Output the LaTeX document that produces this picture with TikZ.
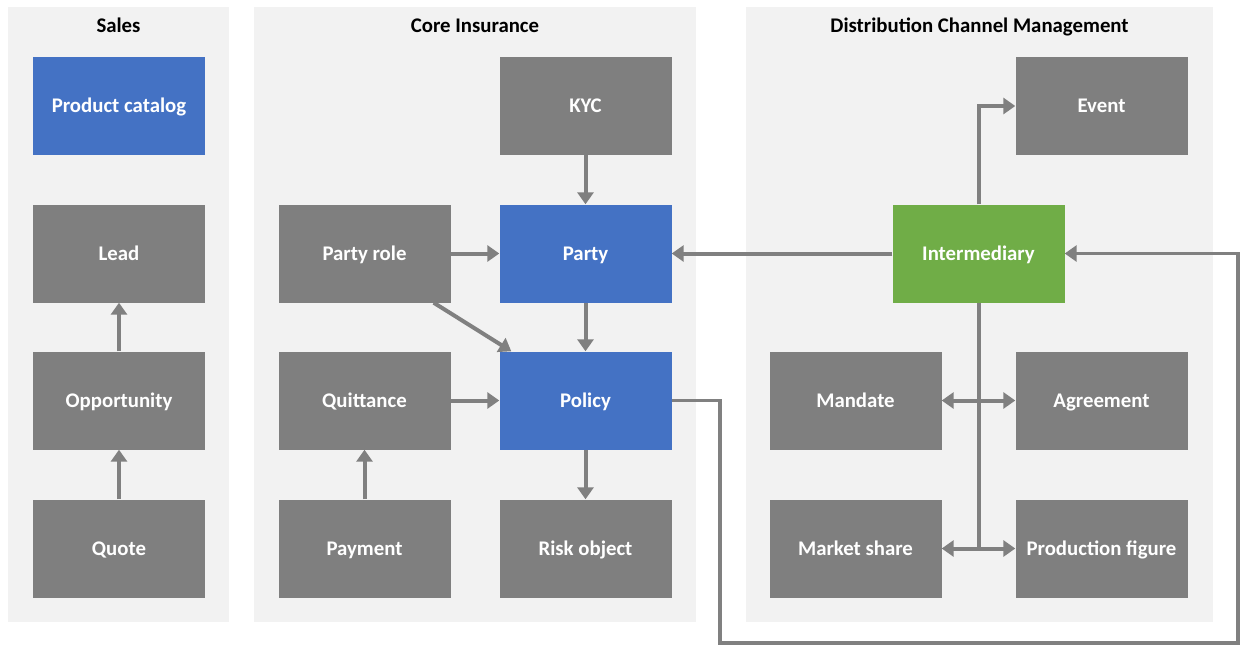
\documentclass[tikz,border=0pt]{standalone}
\usepackage{fontspec}
\setmainfont{Carlito}
\usetikzlibrary{arrows.meta,calc}
\definecolor{boxgray}{HTML}{7F7F7F}
\definecolor{boxblue}{HTML}{4472C4}
\definecolor{boxgreen}{HTML}{70AD47}
\definecolor{panel}{HTML}{F2F2F2}
\definecolor{linegray}{HTML}{808080}
\tikzset{
  box/.style={fill=boxgray, draw=none, minimum width=172pt, minimum height=98pt, inner sep=0pt,
    text=white, font=\fontsize{20.8}{24}\selectfont\bfseries, text height=13.5pt, text depth=0pt},
  bluebox/.style={box, fill=boxblue},
  greenbox/.style={box, fill=boxgreen},
  panelbg/.style={fill=panel, draw=none},
  ptitle/.style={font=\fontsize{20.8}{24}\selectfont\bfseries, text=black, text height=13.5pt, text depth=0pt, inner sep=0pt},
  conn/.style={draw=linegray, line width=4pt},
  arr/.style={conn, -{Triangle[width=16pt,length=12pt]}},
  darr/.style={conn, {Triangle[width=16pt,length=12pt]}-{Triangle[width=16pt,length=12pt]}},
}
\begin{document}
\begin{tikzpicture}[x=1pt,y=-1pt]
\useasboundingbox (0,0) rectangle (1243,646);
% panels
\fill[panelbg] (8,7) rectangle (229,622);
\fill[panelbg] (254,7) rectangle (696,622);
\fill[panelbg] (746,7) rectangle (1213,622);
\node[ptitle] (tsales) at (118.5,26) {Sales};
\node[ptitle] (tcore) at (475,26) {Core Insurance};
\node[ptitle] (tdist) at (979.5,26) {Distribution Channel Management};
% boxes
\node[bluebox] (catalog) at (119,106) {Product catalog};
\node[box] (lead) at (119,253.5) {Lead};
\node[box] (opp) at (119,400.5) {Opportunity};
\node[box] (quote) at (119,548.5) {Quote};
\node[box] (kyc) at (585.5,106) {KYC};
\node[box] (partyrole) at (364.5,253.5) {Party role};
\node[bluebox] (party) at (585.5,253.5) {Party};
\node[box] (quittance) at (364.5,400.5) {Quittance};
\node[bluebox] (policy) at (585.5,400.5) {Policy};
\node[box] (payment) at (364.5,548.5) {Payment};
\node[box] (risk) at (585.5,548.5) {Risk object};
\node[box] (event) at (1101.5,106) {Event};
\node[greenbox] (inter) at (978.5,253.5) {Intermediary};
\node[box] (mandate) at (855.5,400.5) {Mandate};
\node[box] (agreement) at (1101.5,400.5) {Agreement};
\node[box] (market) at (855.5,548.5) {Market share};
\node[box] (production) at (1101.5,548.5) {Production figure};
% connectors
\draw[arr] (opp) -- (lead);
\draw[arr] (quote) -- (opp);
\draw[arr] (kyc) -- (party);
\draw[arr] (partyrole) -- (party);
\draw[arr] ($(partyrole.south east)+(-17,0)$) -- ($(policy.north west)+(12,0)$);
\draw[arr] (party) -- (policy);
\draw[arr] (quittance) -- (policy);
\draw[arr] (payment) -- (quittance);
\draw[arr] (policy) -- (risk);
\draw[arr] (inter) -- (party);
\draw[arr] (inter.north) |- (event.west);
\coordinate (vend) at (978.5,550.5);
\draw[conn] (inter.south) -- (vend);
\draw[darr] (mandate) -- (agreement);
\draw[darr] (market) -- (production);
\coordinate (c1) at (720,643);
\coordinate (c2) at (1238,643);
\draw[arr, line width=3.5pt] (policy.east) -| (c1) -- (c2) |- (inter.east);
\end{tikzpicture}
\end{document}
